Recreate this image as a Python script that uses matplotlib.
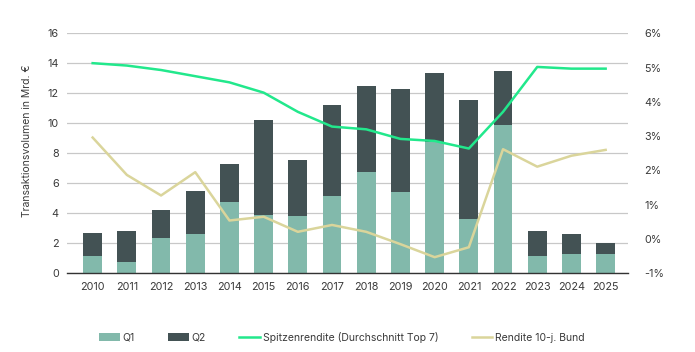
import matplotlib
matplotlib.use("Agg")
import matplotlib.pyplot as plt
import numpy as np

# Daten
jahre = ["2010", "2011", "2012", "2013", "2014", "2015", "2016", "2017",
         "2018", "2019", "2020", "2021", "2022", "2023", "2024", "2025"]
q1 = [1.13, 0.76, 2.36, 2.6, 4.76, 3.87, 3.8, 5.16,
      6.75, 5.42, 8.75, 3.6, 9.9, 1.13, 1.31, 1.27]
gesamt = [2.71, 2.82, 4.2, 5.51, 7.31, 10.2, 7.53, 11.22,
          12.5, 12.27, 13.38, 11.53, 13.47, 2.8, 2.62, 2.05]
q2 = [g - a for g, a in zip(gesamt, q1)]
spitzenrendite = [5.13, 5.06, 4.93, 4.75, 4.57, 4.27, 3.71, 3.28,
                  3.2, 2.92, 2.86, 2.64, 3.71, 5.02, 4.97, 4.97]
bund = [2.96, 1.87, 1.27, 1.95, 0.54, 0.65, 0.21, 0.41,
        0.21, -0.15, -0.53, -0.24, 2.62, 2.11, 2.43, 2.6]

plt.rcParams['font.family'] = ['Inter', 'DejaVu Sans']
txt = '#3a3a3a'
fs = 7.5

fig = plt.figure(figsize=(6.95, 3.52), dpi=100)
ax = fig.add_axes([0.0964, 0.2236, 0.807, 0.6817])
x = np.arange(len(jahre))

ax.bar(x, q1, width=0.55, color='#82B9AB', label='Q1', zorder=2)
ax.bar(x, q2, width=0.55, bottom=q1, color='#435254', label='Q2', zorder=2)
ax.set_ylim(0, 16)
ax.set_yticks(range(0, 17, 2))
ax.set_xlim(-0.75, len(jahre) - 0.35)
ax.set_xticks(x)
ax.set_xticklabels(jahre)
ax.grid(axis='y', color='#c8c8c8', linewidth=0.9, zorder=0)
ax.set_axisbelow(True)
ax.set_ylabel('Transaktionsvolumen in Mrd. €', fontsize=fs, color=txt)
ax.yaxis.set_label_coords(-0.062, 0.553)
ax.tick_params(length=0, labelsize=7.8, colors=txt, pad=6)
for s in ['top', 'right', 'left']:
    ax.spines[s].set_visible(False)
ax.spines['bottom'].set_color('#333333')
ax.spines['bottom'].set_linewidth(1.0)

ax2 = ax.twinx()
ax2.plot(x, spitzenrendite, color='#22E88C', linewidth=1.8,
         label='Spitzenrendite (Durchschnitt Top 7)', zorder=3)
ax2.plot(x, bund, color='#DAD59B', linewidth=1.8,
         label='Rendite 10-j. Bund', zorder=3)
ax2.set_ylim(-1, 6)
ax2.set_yticks(range(-1, 7))
ax2.set_yticklabels([f'{v}%' for v in range(-1, 7)])
ax2.tick_params(length=0, labelsize=7.8, colors=txt, pad=12)
for s in ax2.spines.values():
    s.set_visible(False)

h1, l1 = ax.get_legend_handles_labels()
h2, l2 = ax2.get_legend_handles_labels()
fig.legend(h1 + h2, l1 + l2, loc='center', bbox_to_anchor=(0.492, 0.042),
           ncol=4, frameon=False, fontsize=fs, labelcolor=txt,
           handlelength=2.0, handleheight=0.75, handletextpad=0.25,
           columnspacing=3.2)

fig.savefig('out.png', dpi=100)
